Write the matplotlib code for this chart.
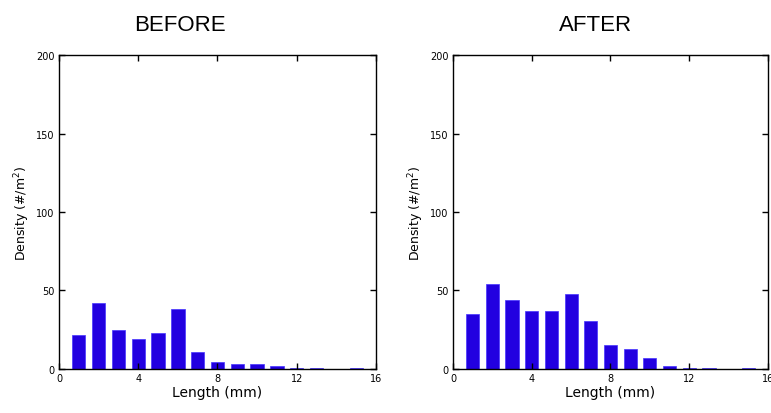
import numpy as np
import matplotlib.pyplot as plt

# length classes (mm)
lengths = [1, 2, 3, 4, 5, 6, 7, 8, 9, 10, 11, 12, 13, 14, 15]

# density (#/m^2)
before = [21.8, 42.3, 25.0, 19.2, 23.0, 38.0, 10.7, 4.3, 3.0, 3.0, 1.7, 0.4, 0.4, 0.0, 0.4]
after = [35.3, 54.3, 44.2, 36.8, 36.8, 47.9, 30.6, 15.6, 13.0, 6.8, 1.7, 0.4, 0.4, 0.0, 0.4]

titles = ["BEFORE", "AFTER"]
x_ticks = [0, 4, 8, 12, 16]
y_ticks = [0, 50, 100, 150, 200]

bar_color = "#2200e0"

fig = plt.figure(figsize=(7.71, 4.14), dpi=100)
ax_left = fig.add_axes([0.0765, 0.1063, 0.4112, 0.7584])
ax_right = fig.add_axes([0.5875, 0.1063, 0.4086, 0.7584])

for ax, vals, title, tx in zip([ax_left, ax_right], [before, after], titles, [0.2335, 0.772]):
    ax.bar(lengths, vals, width=0.67, color=bar_color, edgecolor="#4433ff", linewidth=0.5)
    ax.set_xlim(0, 16)
    ax.set_ylim(0, 200)
    ax.set_xticks(x_ticks)
    ax.set_yticks(y_ticks)
    ax.tick_params(direction="in", top=True, right=True, length=4, width=1,
                   labelsize=7, pad=3)
    for s in ax.spines.values():
        s.set_linewidth(1)
    ax.set_xlabel("Length (mm)", fontsize=10, labelpad=1)
    ax.set_ylabel("Density (#/m$^2$)", fontsize=9, labelpad=3)
    fig.text(tx, 0.938, title, ha="center", va="center", fontsize=16,
             family="Liberation Sans")

fig.savefig("out.png", dpi=100)
